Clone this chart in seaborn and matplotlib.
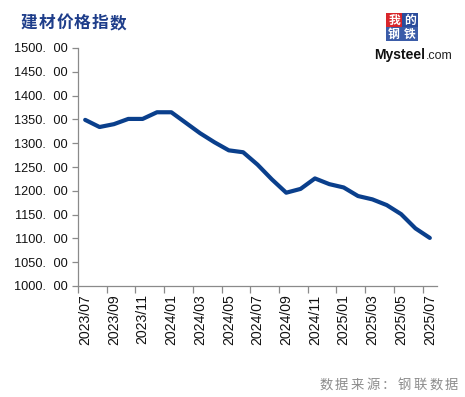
import matplotlib
matplotlib.use("Agg")
import matplotlib.pyplot as plt
import seaborn as sns
import pandas as pd
from matplotlib.patches import Rectangle
from matplotlib.ticker import FixedLocator, FuncFormatter

months = ["2023/07", "2023/08", "2023/09", "2023/10", "2023/11", "2023/12",
          "2024/01", "2024/02", "2024/03", "2024/04", "2024/05", "2024/06",
          "2024/07", "2024/08", "2024/09", "2024/10", "2024/11", "2024/12",
          "2025/01", "2025/02", "2025/03", "2025/04", "2025/05", "2025/06",
          "2025/07"]
index_values = [1349, 1334, 1340, 1351, 1351, 1365, 1365, 1343, 1321, 1302,
                1285, 1281, 1255, 1224, 1196, 1204, 1226, 1214, 1207, 1189,
                1182, 1170, 1151, 1121, 1101]
y_ticks = [1000, 1050, 1100, 1150, 1200, 1250, 1300, 1350, 1400, 1450, 1500]
title_text = "建材价格指数"
source_text = "数据来源：钢联数据"

sns.set_theme(style="white")
plt.rcParams['font.family'] = ['Liberation Sans', 'Noto Sans CJK SC', 'DejaVu Sans']
CJK = ['Noto Sans CJK SC', 'DejaVu Sans']

df = pd.DataFrame({"pos": range(len(months)), "month": months, "value": index_values})

W, H = 465, 397
fig = plt.figure(figsize=(4.65, 3.97), dpi=100)
ax = fig.add_axes([78 / W, 1 - 286 / H, (437 - 78) / W, (286 - 48) / H])

sns.lineplot(data=df, x="pos", y="value", ax=ax, color="#0A3F8C", linewidth=3.0,
             solid_capstyle="round", solid_joinstyle="round")

ax.set_xlim(-0.5, len(months) - 0.5)
ax.set_ylim(1000, 1500)
ax.set_xlabel("")
ax.set_ylabel("")

gray = "#8A8A8A"
for s in ["top", "right"]:
    ax.spines[s].set_visible(False)
for s in ["left", "bottom"]:
    ax.spines[s].set_color(gray)
    ax.spines[s].set_linewidth(0.9)

# y axis
ax.yaxis.set_major_locator(FixedLocator(y_ticks))
ax.yaxis.set_major_formatter(FuncFormatter(lambda v, p: f"{int(v)}.\u2002\u200a00"))
ax.tick_params(axis="y", which="major", direction="out", length=4.5, width=0.9,
               color=gray, labelsize=9.2, labelcolor="#111111", pad=3, left=True)

# x axis: labels at every other month, ticks at category boundaries
label_pos = list(range(0, len(months), 2))
ax.xaxis.set_major_locator(FixedLocator(label_pos))
ax.set_xticklabels([months[i] for i in label_pos], rotation=90, fontsize=10.2, color="#111111")
ax.tick_params(axis="x", which="major", length=0, pad=6, bottom=True)
ax.xaxis.set_minor_locator(FixedLocator([p - 0.5 for p in label_pos]))
ax.tick_params(axis="x", which="minor", direction="out", length=5, width=0.9,
               color=gray, bottom=True)
ax.grid(False)

# title (spaced characters)
for i, ch in enumerate(title_text):
    fig.text((21 + 8 + i * 17.8) / W, 1 - 23 / H, ch, fontsize=12, fontweight="bold",
             color="#1E3D8A", ha="center", va="center", family=CJK)

# source (spaced characters)
for i, ch in enumerate(source_text):
    fig.text((319 + 7 + i * 15.7) / W, 1 - 385 / H, ch, fontsize=9.6, color="#8C8C8C",
             ha="center", va="center", family=CJK)

# logo
boxes = [("我", 386, 13, "#D9262B"), ("的", 402, 13, "#2B4C9B"),
         ("钢", 386, 27, "#3B5CA8"), ("铁", 402, 27, "#3B5CA8")]
for ch, x0, y0, col in boxes:
    fig.patches.append(Rectangle((x0 / W, 1 - (y0 + 14) / H), 16 / W, 14 / H,
                                 transform=fig.transFigure, facecolor=col,
                                 edgecolor="none", zorder=5))
    fig.text((x0 + 8) / W, 1 - (y0 + 7) / H, ch, fontsize=8.5, color="white",
             ha="center", va="center", fontweight="bold", family=CJK, zorder=6)
t1 = fig.text(374 / W, 1 - 59 / H, "Mysteel", fontsize=10, fontweight="bold",
              color="#111111", ha="left", va="baseline", family=['Liberation Sans'])
fig.canvas.draw()
bb = t1.get_window_extent()
fig.text(bb.x1 / W + 0.5 / W, 1 - 59 / H, ".com", fontsize=9, fontweight="normal",
         color="#222222", ha="left", va="baseline", family=['Liberation Sans'])

fig.savefig("out.png", dpi=100, facecolor="white")
